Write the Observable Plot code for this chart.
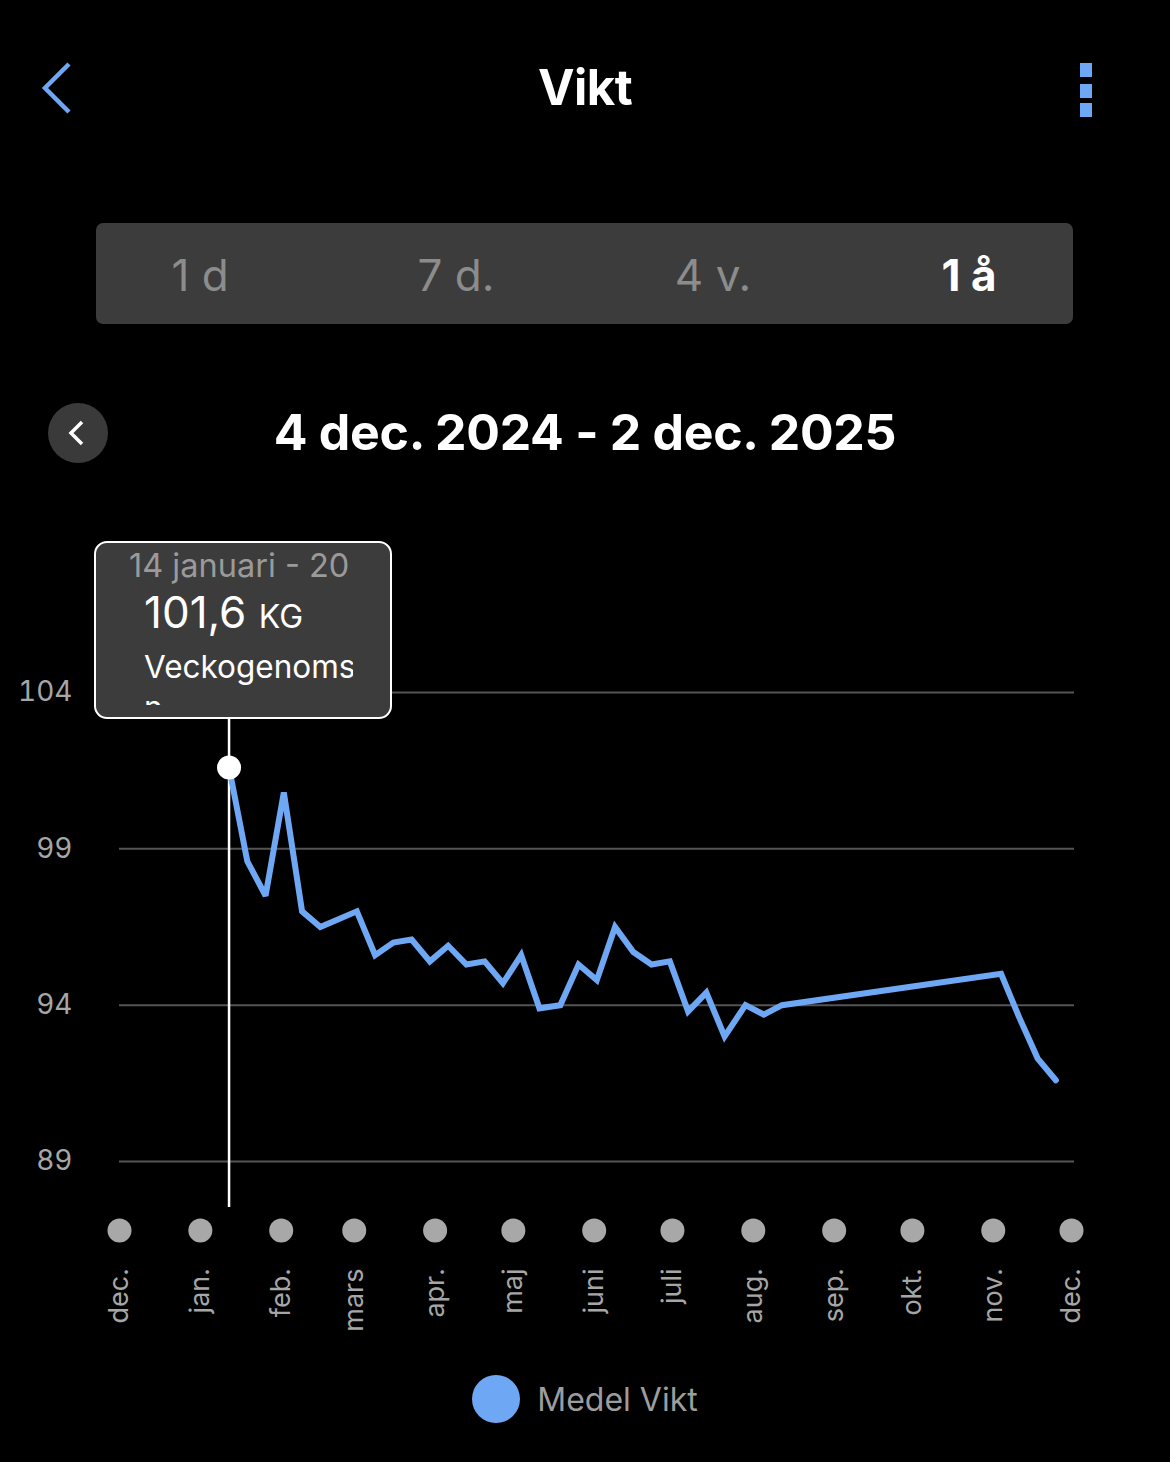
<!DOCTYPE html>
<html>
<head>
<meta charset="utf-8">
<script src="https://cdn.jsdelivr.net/npm/d3@7"></script>
<script src="https://cdn.jsdelivr.net/npm/@observablehq/plot@0.6"></script>
<style>
  html, body { margin: 0; padding: 0; background: #000; }
  body { width: 1170px; height: 1462px; position: relative; overflow: hidden; font-family: Inter, "Open Sans", sans-serif; color: #fff; }
  .abs { position: absolute; }
  #title { left: 0; width: 1170px; top: 58px; text-align: center; font-size: 49px; font-weight: 700; letter-spacing: -0.5px; }
  #seg { left: 96px; top: 223px; width: 977px; height: 101px; background: #3c3c3c; border-radius: 7px; }
  .segl { top: 248px; font-size: 44px; color: #8c8c8c; width: 200px; text-align: center; }
  #range { left: 0; width: 1170px; top: 402px; text-align: center; font-size: 50px; font-weight: 700; letter-spacing: -0.3px; }
  #rbtn { left: 48px; top: 403px; width: 60px; height: 60px; border-radius: 50%; background: #3a3a3a; }
  #chart { left: 0; top: 530px; }
  #tip { left: 94px; top: 541px; width: 298px; height: 178px; box-sizing: border-box; border: 2.5px solid #fff; border-radius: 13px; background: #3c3c3c; overflow: hidden; }
  #legend { left: 0; width: 1170px; top: 1375px; display: flex; justify-content: center; align-items: center; gap: 17px; }
</style>
</head>
<body>
<svg class="abs" style="left:38px;top:60px" width="36" height="56"><polyline points="31,4 7,28 31,52" fill="none" stroke="#6ea8f5" stroke-width="4.5"/></svg>
<div id="title" class="abs">Vikt</div>
<svg class="abs" style="left:1078px;top:62px" width="16" height="56">
  <rect x="2" y="1" width="12" height="14" fill="#6ea8f5"/><rect x="2" y="22" width="12" height="14" fill="#6ea8f5"/><rect x="2" y="41" width="12" height="14" fill="#6ea8f5"/>
</svg>
<div id="seg" class="abs"></div>
<div class="abs segl" style="left:100px">1 d</div>
<div class="abs segl" style="left:356px">7 d.</div>
<div class="abs segl" style="left:613px">4 v.</div>
<div class="abs segl" style="left:869px;color:#fff;font-weight:700">1 å</div>
<div id="rbtn" class="abs"></div>
<svg class="abs" style="left:64px;top:419px" width="28" height="28"><polyline points="18,3 7,14 18,25" fill="none" stroke="#fff" stroke-width="3.5"/></svg>
<div id="range" class="abs">4 dec. 2024 - 2 dec. 2025</div>
<div id="chart" class="abs"></div>
<div id="tip" class="abs">
  <div class="abs" style="left:33px;top:3px;font-size:32.5px;color:#9a9a9a;white-space:nowrap">14 januari - 20</div>
  <div class="abs" style="left:48px;top:42px;font-size:44px;color:#fff;white-space:nowrap">101,6 <span style="font-size:32px">KG</span></div>
  <div class="abs" style="left:48px;top:103px;width:209px;height:59px;overflow:hidden;font-size:31.5px;line-height:41px;color:#fff;white-space:nowrap">Veckogenomsnitt<br>n</div>
</div>
<div id="legend" class="abs">
  <div style="width:48px;height:48px;border-radius:50%;background:#6ea8f5"></div>
  <div style="font-size:32px;color:#9d9d9d">Medel Vikt</div>
</div>
<script>
// Weekly average weight (kg)
const weekDates = [
  "2025-01-12","2025-01-19","2025-01-26","2025-02-02","2025-02-09","2025-02-16",
  "2025-03-02","2025-03-09","2025-03-16","2025-03-23","2025-03-30","2025-04-06",
  "2025-04-13","2025-04-20","2025-04-27","2025-05-04","2025-05-11","2025-05-19",
  "2025-05-26","2025-06-02","2025-06-09","2025-06-16","2025-06-23","2025-06-30",
  "2025-07-07","2025-07-14","2025-07-21","2025-07-29","2025-08-05","2025-08-12",
  "2025-11-04","2025-11-11","2025-11-18","2025-11-25"
];
const weekValues = [
  101.6, 98.6, 97.5, 100.8, 97.0, 96.5,
  97.0, 95.6, 96.0, 96.1, 95.4, 95.9,
  95.3, 95.4, 94.7, 95.6, 93.9, 94.0,
  95.3, 94.8, 96.5, 95.7, 95.3, 95.4,
  93.8, 94.4, 93.0, 94.0, 93.7, 94.0,
  95.0, 93.6, 92.3, 91.6
];
const yTicks = [89, 94, 99, 104];
const monthTicks = [
  "2024-12-01","2025-01-01","2025-02-01","2025-03-01","2025-04-01","2025-05-01",
  "2025-06-01","2025-07-01","2025-08-01","2025-09-01","2025-10-01","2025-11-01","2025-12-01"
];
const monthLabels = ["dec.","jan.","feb.","mars","apr.","maj","juni","juli","aug.","sep.","okt.","nov.","dec."];
const selectedIndex = 0;

const data = weekDates.map((d, i) => ({date: new Date(d), value: weekValues[i]}));
const months = monthTicks.map((d, i) => ({date: new Date(d), label: monthLabels[i]}));
const labelOf = new Map(months.map(m => [+m.date, m.label]));

const chart = Plot.plot({
  width: 1170,
  height: 820,
  marginLeft: 119,
  marginRight: 99,
  marginTop: 162,
  marginBottom: 189,
  style: {background: "transparent", fontFamily: "Inter, 'Open Sans', sans-serif", overflow: "visible"},
  x: {type: "utc", domain: [months[0].date, months[months.length - 1].date]},
  y: {domain: [89, 104]},
  marks: [
    Plot.ruleY(yTicks, {stroke: "#545454", strokeWidth: 2, insetRight: -3}),
    Plot.axisY({ticks: yTicks, tickSize: 0, tickPadding: 47, fontSize: 28, fill: "#a6a6a6", label: null}),
    Plot.axisX({ticks: months.map(m => m.date), tickFormat: d => labelOf.get(+d), tickSize: 0, tickPadding: 107, tickRotate: -90, fontSize: 27, fill: "#a6a6a6", label: null}),
    Plot.dot(months, {x: "date", frameAnchor: "bottom", dy: 69, r: 12, fill: "#a8a8a8"}),
    Plot.ruleX([data[selectedIndex]], {x: "date", stroke: "#fff", strokeWidth: 2.5, insetTop: 26, insetBottom: -46}),
    Plot.line(data, {x: "date", y: "value", stroke: "#6ea8f5", strokeWidth: 6, strokeLinejoin: "miter", strokeMiterlimit: 3}),
    Plot.dot([data[selectedIndex]], {x: "date", y: "value", r: 12, fill: "#fff"})
  ]
});
document.getElementById("chart").appendChild(chart);
</script>
</body>
</html>
